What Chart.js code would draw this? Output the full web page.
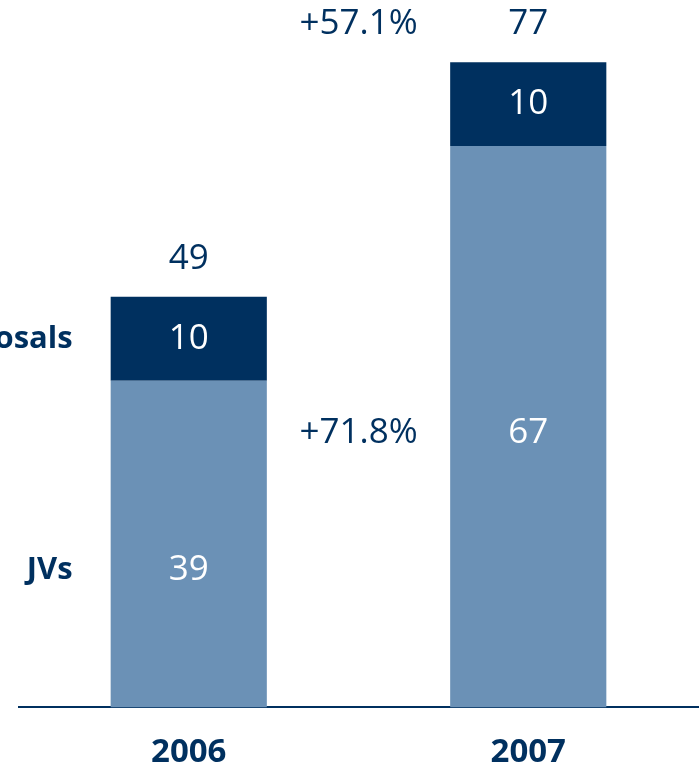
<!DOCTYPE html>
<html>
<head>
<meta charset="utf-8">
<script src="https://cdn.jsdelivr.net/npm/chart.js@4"></script>
<style>
  html, body { margin: 0; padding: 0; background: #fff; }
  canvas { display: block; }
</style>
</head>
<body>
<canvas id="chart" width="700" height="769"></canvas>
<script>
// Data
const years = ["2006", "2007"];
const jvs = [39, 67];
const disposals = [10, 10];
const totals = [49, 77];
const seriesNames = ["JVs", "Disposals"];
const growthTotal = "+57.1%";
const growthJvs = "+71.8%";

const NAVY = "#00305f";
const LIGHT = "#6b91b6";
const FONT = "'Open Sans', 'Noto Sans', sans-serif";

// Draws the value labels, series names and growth figures
const labelPlugin = {
  id: "labels",
  afterDatasetsDraw(chart) {
    const ctx = chart.ctx;
    const jvBars = chart.getDatasetMeta(0).data;
    const dispBars = chart.getDatasetMeta(1).data;
    const jvOffset = [26, 6]; // JV labels sit a little below the segment middle

    ctx.save();
    ctx.textAlign = "center";
    ctx.textBaseline = "middle";
    ctx.font = "35px " + FONT;

    let jvLabelY = [];
    let totalLabelY = [];
    jvBars.forEach((bar, i) => {
      const jvMid = (bar.y + bar.base) / 2 + jvOffset[i];
      jvLabelY.push(jvMid);
      ctx.fillStyle = "#ffffff";
      ctx.fillText(String(jvs[i]), bar.x, jvMid);

      const d = dispBars[i];
      ctx.fillText(String(disposals[i]), d.x, (d.y + d.base) / 2);

      ctx.fillStyle = NAVY;
      const ty = d.y - 38;
      totalLabelY.push(ty);
      ctx.fillText(String(totals[i]), d.x, ty);
    });

    // Growth figures between the two columns
    const midX = (jvBars[0].x + jvBars[1].x) / 2;
    ctx.fillText(growthTotal, midX, totalLabelY[1]);
    ctx.fillText(growthJvs, midX, jvLabelY[1]);

    // Series names to the left of the first column
    ctx.font = "bold 31px " + FONT;
    ctx.textAlign = "right";
    const first = jvBars[0];
    const leftX = first.x - first.width / 2 - 38;
    ctx.fillText(seriesNames[1], leftX, (dispBars[0].y + dispBars[0].base) / 2);
    ctx.fillText(seriesNames[0], leftX, jvLabelY[0]);
    ctx.restore();
  }
};

new Chart(document.getElementById("chart"), {
  type: "bar",
  data: {
    labels: years,
    datasets: [
      { label: seriesNames[0], data: jvs, backgroundColor: LIGHT },
      { label: seriesNames[1], data: disposals, backgroundColor: NAVY }
    ]
  },
  options: {
    responsive: false,
    animation: false,
    datasets: { bar: { barPercentage: 0.92, categoryPercentage: 0.5 } },
    layout: { padding: { top: 12, left: 19, right: 2, bottom: -28 } },
    plugins: { legend: { display: false }, tooltip: { enabled: false } },
    scales: {
      x: {
        stacked: true,
        grid: { display: false, drawTicks: false },
        border: { display: true, color: NAVY, width: 2 },
        ticks: { color: NAVY, padding: 25, font: { family: FONT, size: 33, weight: "bold" } }
      },
      y: {
        stacked: true,
        display: false,
        min: 0,
        max: 83
      }
    }
  },
  plugins: [labelPlugin]
});
</script>
</body>
</html>
